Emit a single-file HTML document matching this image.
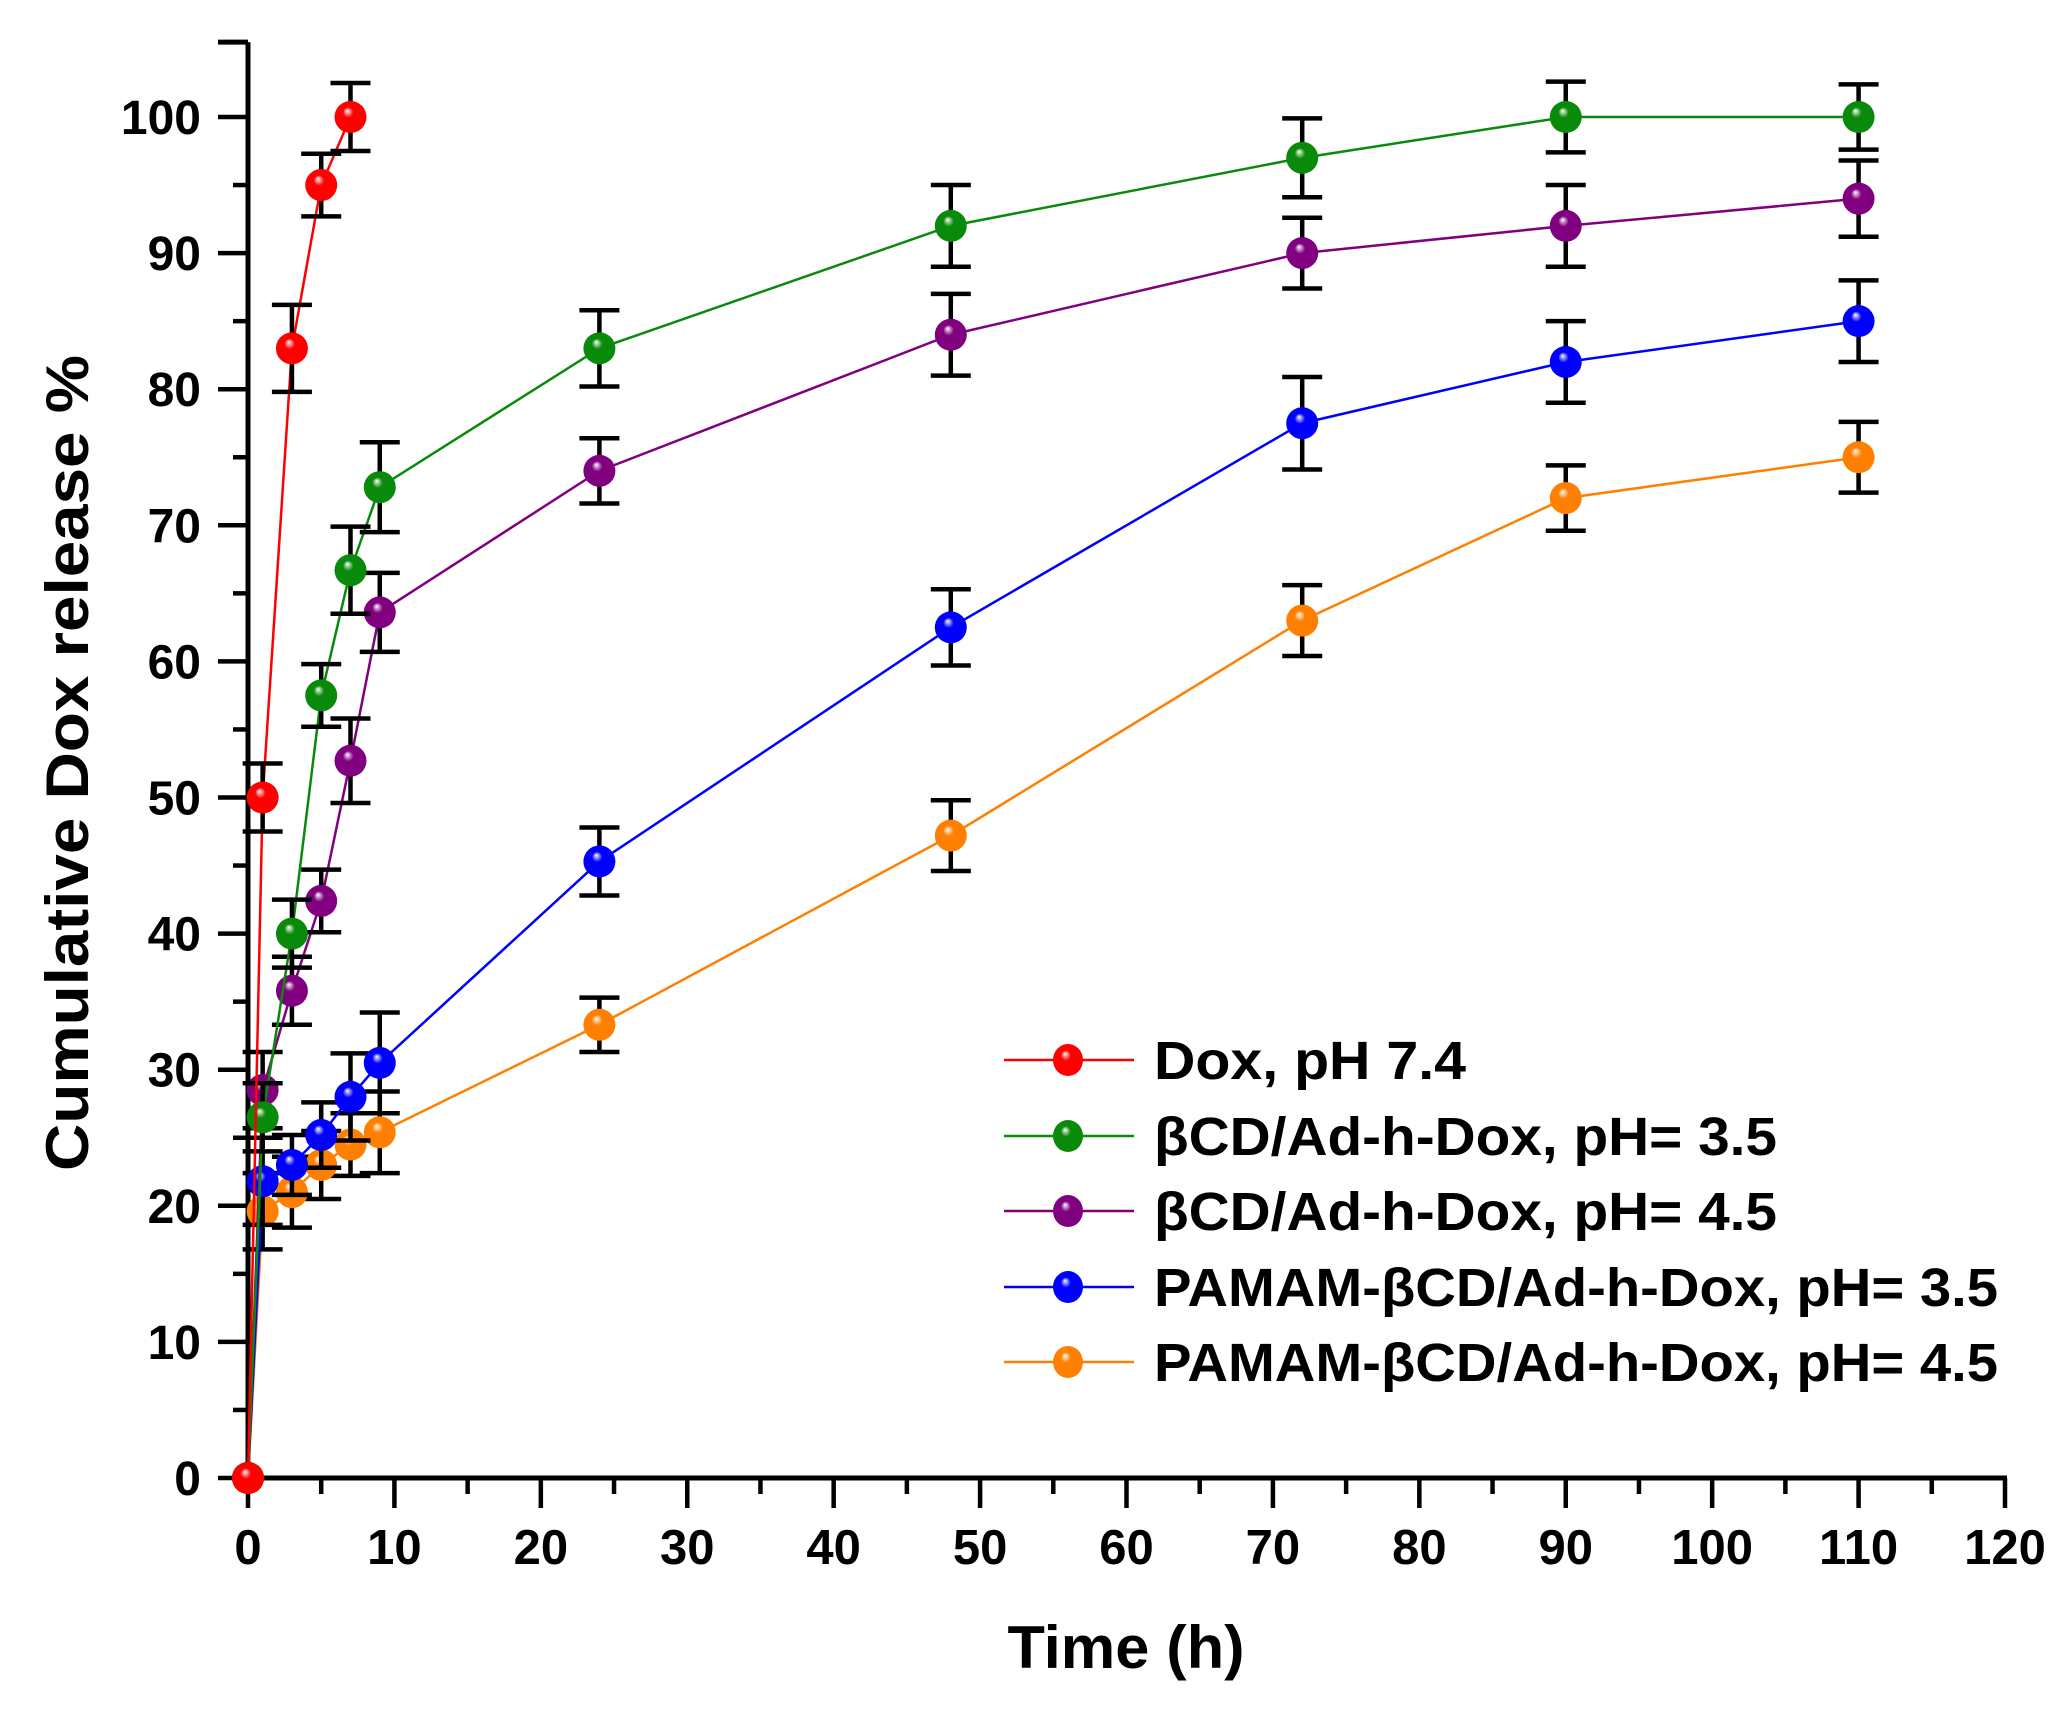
<!DOCTYPE html>
<html><head><meta charset="utf-8">
<style>
html,body{margin:0;padding:0;background:#fff;}
svg{display:block;font-family:"Liberation Sans",Arial,sans-serif;font-weight:bold;}
</style></head>
<body>
<svg id="chart" width="2064" height="1711" viewBox="0 0 2064 1711" xmlns="http://www.w3.org/2000/svg">
<defs></defs>
<g id="axes"></g>
<g id="series"></g>
<g id="legend"></g>
<text x="0" y="0" font-size="60" text-anchor="middle" transform="translate(88,763) rotate(-90)" textLength="816" lengthAdjust="spacingAndGlyphs">Cumulative Dox release %</text>
<text x="1126" y="1668" font-size="60" text-anchor="middle" textLength="237" lengthAdjust="spacingAndGlyphs">Time (h)</text>
</svg>
<script>
const xTicks = [0,10,20,30,40,50,60,70,80,90,100,110,120];
const yTicks = [0,10,20,30,40,50,60,70,80,90,100];
const seriesNames = ["Dox, pH 7.4","βCD/Ad-h-Dox, pH= 3.5","βCD/Ad-h-Dox, pH= 4.5","PAMAM-βCD/Ad-h-Dox, pH= 3.5","PAMAM-βCD/Ad-h-Dox, pH= 4.5"];
const seriesColors = ["#ff0000","#0a8a0a","#800080","#0000ff","#ff8000"];
const timesDox = [0,1,3,5,7];
const timesOther = [0,1,3,5,7,9,24,48,72,90,110];
const valDox = [0,50,83,95,100];
const errDox = [0,2.5,3.2,2.3,2.5];
const valG35 = [0,26.5,40,57.5,66.7,72.8,83,92,97,100,100];
const errG35 = [0,2.5,2.5,2.3,3.2,3.3,2.8,3,2.9,2.6,2.4];
const valG45 = [0,28.5,35.8,42.4,52.7,63.6,74,84,90,92,94];
const errG45 = [0,2.8,2.5,2.3,3.1,2.9,2.4,3,2.6,3,2.8];
const valP35 = [0,21.8,23,25.2,28,30.5,45.3,62.5,77.5,82,85];
const errP35 = [0,3.2,2.2,2.4,3.2,3.7,2.5,2.8,3.4,3,3];
const valP45 = [0,19.6,21,23,24.5,25.4,33.3,47.2,63,72,75];
const errP45 = [0,2.8,2.6,2.5,2.3,3,2,2.6,2.6,2.4,2.6];

const X0=248, X1=2005, Y0=1478, Y100=117;
function sx(v){return X0+(X1-X0)*v/120;}
function sy(v){return Y0+(Y100-Y0)*v/100;}
const NS="http://www.w3.org/2000/svg";
function mk(tag,attrs,parent){const e=document.createElementNS(NS,tag);for(const k in attrs)e.setAttribute(k,attrs[k]);parent.appendChild(e);return e;}

const defs=document.querySelector('defs');
seriesColors.forEach((c,i)=>{
  const g=mk('radialGradient',{id:'grad'+i,cx:'0.5',cy:'0.5',r:'0.55',fx:'0.4',fy:'0.3'},defs);
  mk('stop',{offset:'0','stop-color':'#ffffff'},g);
  mk('stop',{offset:'0.3','stop-color':c},g);
  mk('stop',{offset:'1','stop-color':c},g);
});

const axes=document.getElementById('axes');
const yAxisTop=sy(105.5);
let e;
e=mk('line',{x1:X0,y1:yAxisTop,x2:X0,y2:Y0+2,stroke:'#000','stroke-width':5},axes);


e=mk('line',{x1:X0-2,y1:Y0,x2:X1+2,y2:Y0,stroke:'#000','stroke-width':5},axes);


mk('line',{x1:X0-30,y1:yAxisTop,x2:X0,y2:yAxisTop,stroke:'#000','stroke-width':5},axes);
for(let v=0;v<=120;v+=5){
  const major=v%10===0;
  e=mk('line',{x1:sx(v),y1:Y0,x2:sx(v),y2:Y0+(major?30:16),stroke:'#000','stroke-width':4.5},axes);
  
  
}
for(let v=0;v<=100;v+=5){
  const major=v%10===0;
  e=mk('line',{x1:X0-(major?30:15),y1:sy(v),x2:X0,y2:sy(v),stroke:'#000','stroke-width':4.5},axes);
  
  
}
xTicks.forEach(v=>{
  const t=mk('text',{x:sx(v),y:1564,'font-size':49,'text-anchor':'middle'},axes);
  t.textContent=v;
  
  
});
yTicks.forEach(v=>{
  const t=mk('text',{x:201,y:sy(v)+17,'font-size':48,'text-anchor':'end'},axes);
  t.textContent=v;
  
  
});

const allSeries=[[timesDox,valDox,errDox],[timesOther,valG35,errG35],[timesOther,valG45,errG45],[timesOther,valP35,errP35],[timesOther,valP45,errP45]];
const sg=document.getElementById('series');
// draw order: orange, blue, purple, green, red
[4,3,2,1,0].forEach(i=>{
  const [xs,ys,es]=allSeries[i];
  const g=mk('g',{},sg);
  
  
  const pts=xs.map((x,j)=>sx(x)+','+sy(ys[j])).join(' ');
  const pl=mk('polyline',{points:pts,fill:'none',stroke:seriesColors[i],'stroke-width':2.5},g);
  
  
  xs.forEach((x,j)=>{
    if(es[j]>0){
      const cx=sx(x), yt=sy(ys[j]+es[j]), yb=sy(ys[j]-es[j]);
      const eb=mk('path',{d:`M${cx},${yt}V${yb}M${cx-20},${yt}H${cx+20}M${cx-20},${yb}H${cx+20}`,stroke:'#000','stroke-width':4.5,fill:'none'},g);
      
      
    }
  });
  xs.forEach((x,j)=>{
    const c=mk('circle',{cx:sx(x),cy:sy(ys[j]),r:16,fill:'url(#grad'+i+')'},g);
    
    
  });
});

const lg=document.getElementById('legend');
const legY=[1060,1136,1211,1287,1362];
const legW=[312,623,623,844,844];
seriesNames.forEach((n,i)=>{
  const g=mk('g',{},lg);
  
  
  mk('line',{x1:1004,y1:legY[i],x2:1134,y2:legY[i],stroke:seriesColors[i],'stroke-width':2.5},g);
  mk('ellipse',{cx:1068,cy:legY[i],rx:15,ry:16,fill:'url(#grad'+i+')'},g);
  const t=mk('text',{x:1154,y:legY[i]+19,'font-size':54,textLength:legW[i],lengthAdjust:'spacingAndGlyphs'},g);
  t.textContent=n;
});
</script>
</body></html>
